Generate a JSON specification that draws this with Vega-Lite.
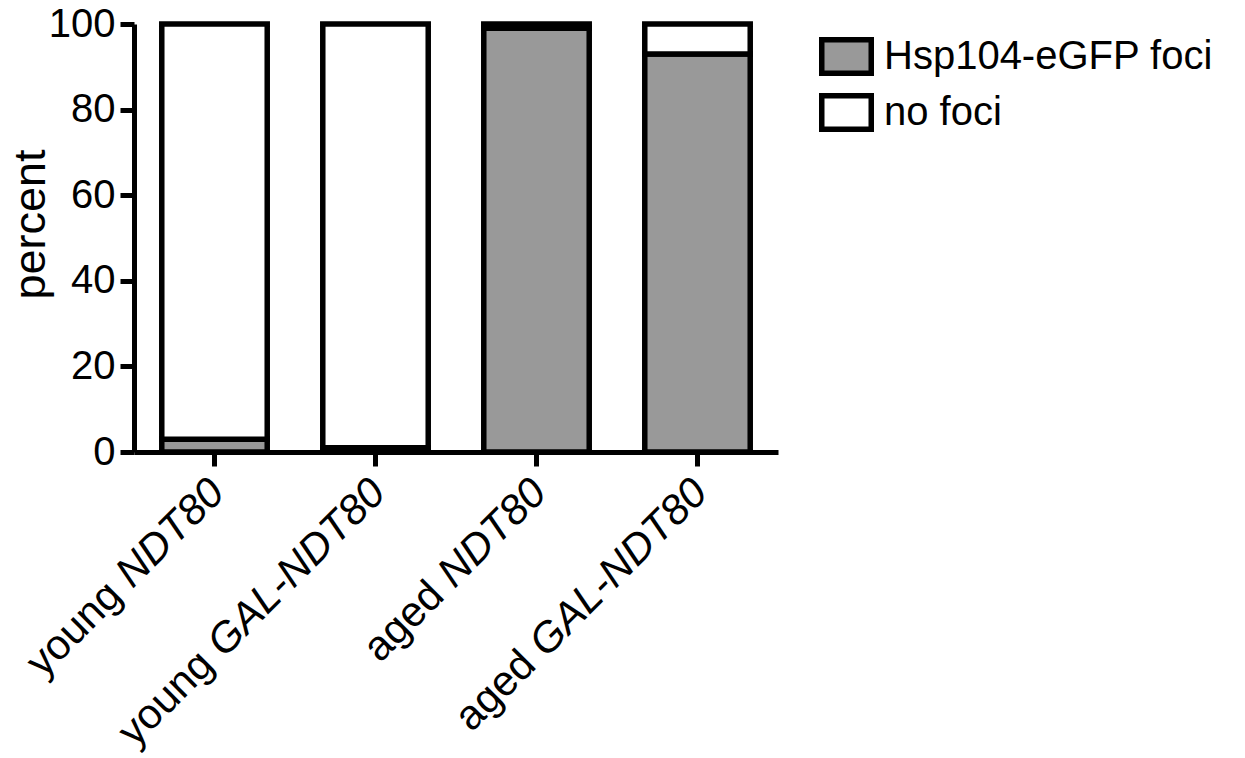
{
  "$schema": "https://vega.github.io/schema/vega-lite/v6.json",
  "width": 644,
  "height": 428,
  "autosize": {"type": "none"},
  "padding": {"left": 134, "top": 24, "right": 467, "bottom": 306},
  "background": "white",
  "config": {"view": {"stroke": null}, "font": "Liberation Sans"},
  "datasets": {
    "bars": [
      {"group": "young NDT80", "status": "Hsp104-eGFP foci", "percent": 3},
      {"group": "young NDT80", "status": "no foci", "percent": 97},
      {"group": "young GAL-NDT80", "status": "Hsp104-eGFP foci", "percent": 1},
      {"group": "young GAL-NDT80", "status": "no foci", "percent": 99},
      {"group": "aged NDT80", "status": "Hsp104-eGFP foci", "percent": 99},
      {"group": "aged NDT80", "status": "no foci", "percent": 1},
      {"group": "aged GAL-NDT80", "status": "Hsp104-eGFP foci", "percent": 93},
      {"group": "aged GAL-NDT80", "status": "no foci", "percent": 7}
    ],
    "labels": [
      {"group": "young NDT80", "prefix": "young", "gene": "NDT80", "kind": "short"},
      {"group": "young GAL-NDT80", "prefix": "young", "gene": "GAL-NDT80", "kind": "long"},
      {"group": "aged NDT80", "prefix": "aged", "gene": "NDT80", "kind": "short"},
      {"group": "aged GAL-NDT80", "prefix": "aged", "gene": "GAL-NDT80", "kind": "long"}
    ]
  },
  "layer": [
    {
      "data": {"name": "bars"},
      "mark": {"type": "bar", "stroke": "black", "strokeWidth": 5.5, "strokeJoin": "miter"},
      "encoding": {
        "x": {
          "field": "group", "type": "nominal",
          "sort": ["young NDT80", "young GAL-NDT80", "aged NDT80", "aged GAL-NDT80"],
          "scale": {"paddingInner": 0.345, "paddingOuter": 0.1725},
          "axis": {"title": null, "labels": false, "tickSize": 14, "tickWidth": 5, "domainWidth": 5, "domainColor": "black", "tickColor": "black", "grid": false}
        },
        "y": {
          "field": "percent", "type": "quantitative", "stack": "zero",
          "scale": {"domain": [0, 100], "nice": false},
          "axis": {"title": "percent", "values": [0, 20, 40, 60, 80, 100], "tickSize": 14, "tickWidth": 5, "domainWidth": 5, "domainColor": "black", "tickColor": "black", "labelFontSize": 40, "labelPadding": 5, "labelColor": "black", "labelFlush": false, "labelOverlap": false, "titleFontSize": 45, "titleFontWeight": "normal", "titleColor": "black", "titlePadding": -5, "titleY": 200, "grid": false}
        },
        "color": {
          "field": "status", "type": "nominal",
          "scale": {"domain": ["Hsp104-eGFP foci", "no foci"], "range": ["#999999", "#ffffff"]},
          "legend": {"orient": "none", "legendX": 685, "legendY": 5, "title": null, "symbolType": "M-1,-0.68H1V0.68H-1Z", "symbolSize": 2450, "symbolStrokeColor": "black", "symbolStrokeWidth": 5.5, "symbolOpacity": 1, "labelFontSize": 40, "labelOffset": 10, "rowPadding": -5.5, "padding": 0, "labelColor": "black", "labelLimit": 600}
        },
        "order": {"field": "status", "sort": "ascending"}
      }
    },
    {
      "data": {"name": "labels"},
      "mark": {"type": "text", "angle": 315, "align": "right", "baseline": "middle", "fontSize": 42, "fontStyle": "italic", "dx": -22, "dy": 26, "color": "black"},
      "encoding": {
        "x": {"field": "group", "type": "nominal", "sort": ["young NDT80", "young GAL-NDT80", "aged NDT80", "aged GAL-NDT80"]},
        "y": {"datum": 0},
        "text": {"field": "gene"}
      }
    },
    {
      "data": {"name": "labels"},
      "transform": [{"filter": "datum.kind === 'short'"}],
      "mark": {"type": "text", "angle": 315, "align": "right", "baseline": "middle", "fontSize": 42, "dx": -167, "dy": 26, "color": "black"},
      "encoding": {
        "x": {"field": "group", "type": "nominal", "sort": ["young NDT80", "young GAL-NDT80", "aged NDT80", "aged GAL-NDT80"]},
        "y": {"datum": 0},
        "text": {"field": "prefix"}
      }
    },
    {
      "data": {"name": "labels"},
      "transform": [{"filter": "datum.kind === 'long'"}],
      "mark": {"type": "text", "angle": 315, "align": "right", "baseline": "middle", "fontSize": 42, "dx": -265, "dy": 26, "color": "black"},
      "encoding": {
        "x": {"field": "group", "type": "nominal", "sort": ["young NDT80", "young GAL-NDT80", "aged NDT80", "aged GAL-NDT80"]},
        "y": {"datum": 0},
        "text": {"field": "prefix"}
      }
    }
  ]
}
